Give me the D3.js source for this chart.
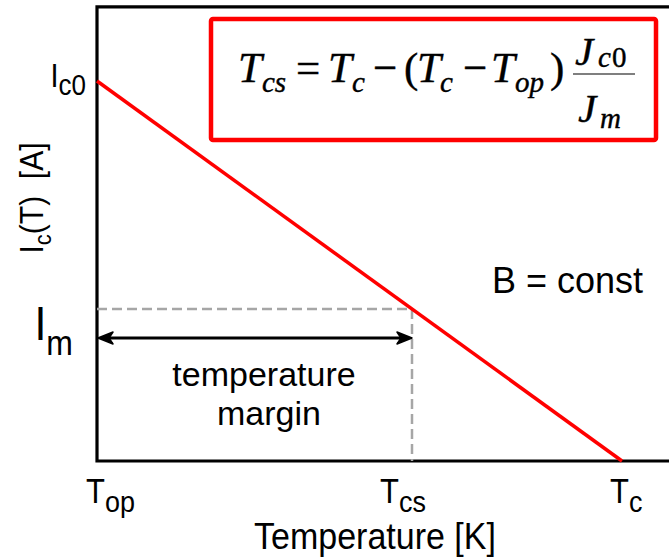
<!DOCTYPE html>
<html><head><meta charset="utf-8">
<script src="https://cdn.jsdelivr.net/npm/d3@7"></script>
<style>html,body{margin:0;padding:0;background:#fff}svg{display:block}text{white-space:pre}</style>
</head><body>
<svg id="c" width="669" height="559"></svg>
<script>
// ---- data ----
const temps = [0, 1];              // T_op .. T_c (normalised)
const currents = [1, 0];           // I_c0 .. 0
const tickValues = [0, 0.6, 1];    // T_op, T_cs, T_c
const tickMain = ["T", "T", "T"];
const tickSubs = ["op", "cs", "c"];
const Im = 0.4;                    // operating current (fraction of I_c0)
const Tcs = 0.6;                   // current sharing temperature

const svg = d3.select("#c");
const SANS = "'Liberation Sans', Arial, sans-serif";
const SERIF = "'Liberation Serif', 'Times New Roman', serif";

const x = d3.scaleLinear().domain([0, 1]).range([97, 622]);
const y = d3.scaleLinear().domain([0, 1]).range([461, 81]);

// frame (left, top, bottom lines)
svg.append("path")
  .attr("d", `M700,${y(1.195)} L${x(0)},${y(1.195)} L${x(0)},${y(0)} L700,${y(0)}`)
  .attr("fill", "none").attr("stroke", "#000").attr("stroke-width", 3.2);

// dashed guides
svg.append("path")
  .attr("d", `M${x(0)},${y(Im)} L${x(Tcs)},${y(Im)} L${x(Tcs)},${y(0)}`)
  .attr("fill", "none").attr("stroke", "#a6a6a6").attr("stroke-width", 2.5)
  .attr("stroke-dasharray", "10,5");

// red line
svg.append("path")
  .datum(temps.map((t, i) => [t, currents[i]]))
  .attr("d", d3.line().x(d => x(d[0])).y(d => y(d[1])))
  .attr("fill", "none").attr("stroke", "#ff0000").attr("stroke-width", 3.5);

// double arrow
const ay = 338, ax0 = x(0) + 1, ax1 = x(Tcs);
svg.append("line").attr("x1", ax0 + 4).attr("x2", ax1 - 4).attr("y1", ay).attr("y2", ay)
  .attr("stroke", "#000").attr("stroke-width", 3);
const head = (tx, dir) => `M${tx},${ay} L${tx + dir * 15},${ay - 6} L${tx + dir * 11},${ay} L${tx + dir * 15},${ay + 6} Z`;
svg.append("path").attr("d", head(ax0, 1) + head(ax1, -1)).attr("fill", "#000")
  .attr("stroke", "#000").attr("stroke-width", 1.5).attr("stroke-linejoin", "round");

// helper for text with subscripts
function label(px, py, parts, o) {
  const g = svg.append("g").attr("transform", `translate(${px},${py})` + (o.rotate ? ` rotate(${o.rotate})` : "") + ` scale(1,${o.sy || 1})`);
  const t = g.append("text").attr("font-family", o.family || SANS).attr("font-size", o.size)
    .attr("text-anchor", o.anchor || "start").attr("fill", "#000");
  let cur = 0;
  parts.forEach(p => {
    const off = p.sub ? (o.subDy || 8) : 0;
    const ts = t.append("tspan").text(p.t).attr("dy", off - cur);
    if (p.sub) ts.attr("font-size", o.subSize);
    cur = off;
  });
  return t;
}

// x tick labels
const tickDx = [-11, -32, -12];
tickValues.forEach((v, i) => {
  label(x(v) + tickDx[i], 503, [{t: tickMain[i]}, {t: tickSubs[i], sub: true}],
        {size: 31, subSize: 27, subDy: 8, sy: 1.12});
});
// y labels
label(86, 87, [{t: "I"}, {t: "c0", sub: true}], {size: 29, subSize: 26, subDy: 7, anchor: "end", sy: 1.12});
label(73, 340, [{t: "I"}, {t: "m", sub: true}], {size: 43, subSize: 32, subDy: 13, anchor: "end", sy: 1.12});

// axis titles
label(375, 549, [{t: "Temperature [K]"}], {size: 34, anchor: "middle", sy: 1.1});
label(43, 198, [{t: "I"}, {t: "c", sub: true}, {t: "(T)  [A]"}], {size: 30, subSize: 22, subDy: 7, anchor: "middle", rotate: -90, sy: 1.1});

// annotations
label(492, 293, [{t: "B = const"}], {size: 36});
label(264, 386, [{t: "temperature"}], {size: 34, anchor: "middle"});
label(269, 425, [{t: "margin"}], {size: 34, anchor: "middle"});

// formula box
svg.append("rect").attr("x", 211).attr("y", 19).attr("width", 445).attr("height", 121).attr("rx", 2)
  .attr("fill", "#fff").attr("stroke", "#ff0000").attr("stroke-width", 4.5);

function ftext(px, py, s, size, italic) {
  svg.append("text").attr("x", px).attr("y", py).attr("font-family", SERIF)
    .attr("font-size", size).attr("font-style", italic ? "italic" : "normal")
    .attr("stroke", "#000").attr("stroke-width", 0.4).text(s);
}
ftext(238, 82, "T", 43, true);
ftext(262, 92, "cs", 29, true);
ftext(296, 82, "=", 43, false);
ftext(328, 82, "T", 43, true);
ftext(352, 92, "c", 29, true);
ftext(373, 82, "\u2212", 43, false);
ftext(404, 82, "(", 43, false);
ftext(417, 82, "T", 43, true);
ftext(440, 92, "c", 29, true);
ftext(463, 82, "\u2212", 43, false);
ftext(491, 82, "T", 43, true);
ftext(515, 92, "op", 29, true);
ftext(550, 82, ")", 43, false);
svg.append("line").attr("x1", 573).attr("x2", 635).attr("y1", 74).attr("y2", 74)
  .attr("stroke", "#555").attr("stroke-width", 1.5);
ftext(575, 65, "J", 41, true);
ftext(598, 67, "c", 29, true);
ftext(612, 67, "0", 29, false);
ftext(578, 122, "J", 41, true);
ftext(600, 128, "m", 29, true);
</script>
</body></html>
